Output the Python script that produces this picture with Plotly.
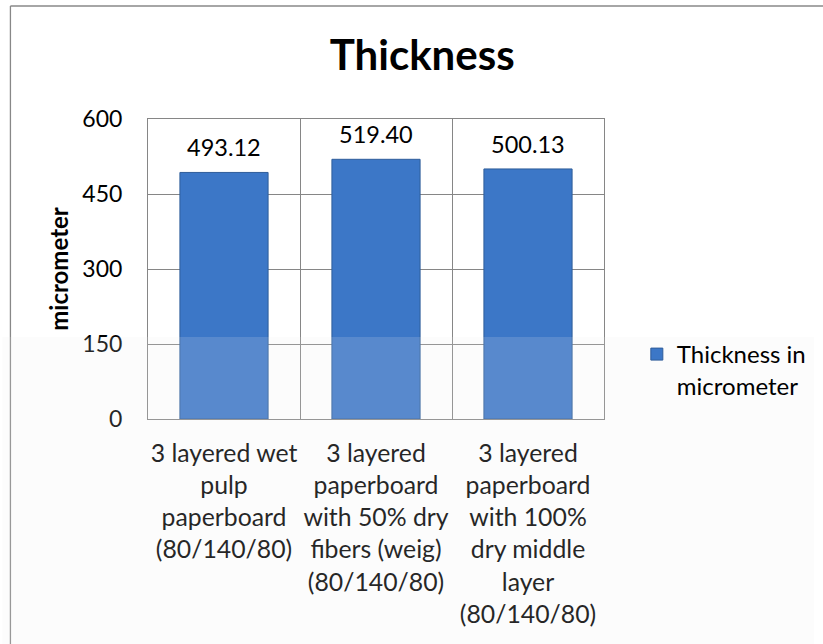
import plotly.graph_objects as go

# Sample categories and measured thickness (micrometer)
categories = [
    "3 layered wet<br>pulp<br>paperboard<br>(80/140/80)",
    "3 layered<br>paperboard<br>with 50% dry<br>fibers (weig)<br>(80/140/80)",
    "3 layered<br>paperboard<br>with 100%<br>dry middle<br>layer<br>(80/140/80)",
]
thickness = [493.12, 519.40, 500.13]
y_ticks = [0, 150, 300, 450, 600]
series_name = "Thickness in<br>micrometer"

FONT = "Lato"
GRID = "#868686"

fig = go.Figure()
fig.add_trace(go.Bar(
    x=categories,
    y=thickness,
    name=series_name,
    marker=dict(color="#3c77c7", line=dict(color="#2f5d9a", width=1)),
    showlegend=True,
))

# value labels above each bar
for c, v in zip(categories, thickness):
    fig.add_annotation(
        x=c, y=v, xref="x", yref="y",
        text=f"{v:.2f}", showarrow=False,
        yanchor="bottom", yshift=9,
        font=dict(family=FONT, size=23.5, color="#000000"),
    )

fig.update_layout(
    width=823, height=644,
    margin=dict(l=148, r=211, t=119, b=225),
    paper_bgcolor="white", plot_bgcolor="white",
    bargap=0.42,
    title=dict(
        text="<b>Thickness</b>", x=0.513, xanchor="center",
        y=1 - 55 / 644, yref="container", yanchor="middle",
        font=dict(family=FONT, size=42, color="#000000"),
    ),
    legend=dict(
        x=1.072, y=0.29, xanchor="left", yanchor="top",
        valign="top", itemwidth=30,
        font=dict(family=FONT, size=24, color="#000000"),
        bgcolor="rgba(0,0,0,0)",
    ),
    font=dict(family=FONT, color="#000000"),
)

fig.update_xaxes(
    type="category",
    tickson="boundaries",
    showgrid=True, gridcolor=GRID, gridwidth=1,
    showline=True, linecolor=GRID, linewidth=1, mirror=True,
    ticks="", ticklabelstandoff=12, tickangle=0,
    tickfont=dict(family=FONT, size=24.8, color="#000000"),
)
fig.update_yaxes(
    range=[0, 600], tickvals=y_ticks,
    showgrid=True, gridcolor=GRID, gridwidth=1, zeroline=False,
    showline=True, linecolor=GRID, linewidth=1, mirror=True,
    ticks="", ticklabelstandoff=20,
    tickfont=dict(family=FONT, size=23, color="#000000"),
    title=dict(text="<b>micrometer</b>", standoff=6,
               font=dict(family=FONT, size=24, color="#000000")),
)

# outer chart frame (left and top edges)
frame = dict(color="#888888", width=1.3)
fig.add_shape(type="line", xref="paper", yref="paper",
              x0=-0.3017, x1=-0.3017, y0=-0.8, y1=1.3767, line=frame, layer="above")
fig.add_shape(type="line", xref="paper", yref="paper",
              x0=-0.3017, x1=1.5, y0=1.3767, y1=1.3767, line=frame, layer="above")
# faint haze over the lower part of the chart
fig.add_shape(type="rect", xref="paper", yref="paper",
              x0=-0.32, x1=1.46, y0=-0.76, y1=0.2733,
              line=dict(width=0), fillcolor="rgba(235,235,235,0.16)",
              layer="above")

fig.write_html("out.html")
